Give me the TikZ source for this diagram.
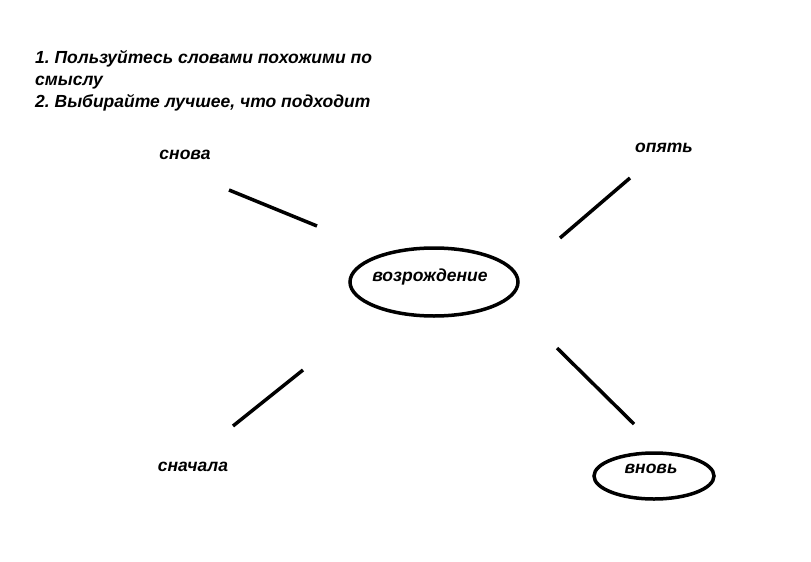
\documentclass[tikz,border=0pt]{standalone}
\usepackage{fontspec}
\setmainfont{Liberation Sans}
\frenchspacing
\begin{document}
\begin{tikzpicture}[x=1pt,y=-1pt,
  lbl/.style={font=\bfseries\itshape\fontsize{17.5}{22}\selectfont,inner sep=0pt},
  stroke/.style={line width=3.5pt}]
\useasboundingbox (0,0) rectangle (811,562);
\node[lbl,anchor=north west,align=left] (t) at (35,50) {1. Пользуйтесь словами похожими по\\смыслу\\2. Выбирайте лучшее, что подходит};
\node[lbl] (a) at (185,155) {снова};
\node[lbl] (b) at (664,148) {опять};
\node[lbl] (c) at (193,467) {сначала};
\node[lbl] (m) at (430,277) {возрождение};
\node[lbl] (v) at (651,469) {вновь};
\draw[line width=3.5pt] (434,282) ellipse [x radius=84, y radius=34];
\draw[line width=3.5pt] (654,476) ellipse [x radius=60, y radius=23];
\coordinate (a1) at (229,190); \coordinate (a2) at (317,226);
\coordinate (b1) at (560,238); \coordinate (b2) at (630,178);
\coordinate (c1) at (233,426); \coordinate (c2) at (303,370);
\coordinate (d1) at (557,348); \coordinate (d2) at (634,424);
\draw[stroke] (a1) -- (a2);
\draw[stroke] (b1) -- (b2);
\draw[stroke] (c1) -- (c2);
\draw[stroke] (d1) -- (d2);
\end{tikzpicture}
\end{document}
